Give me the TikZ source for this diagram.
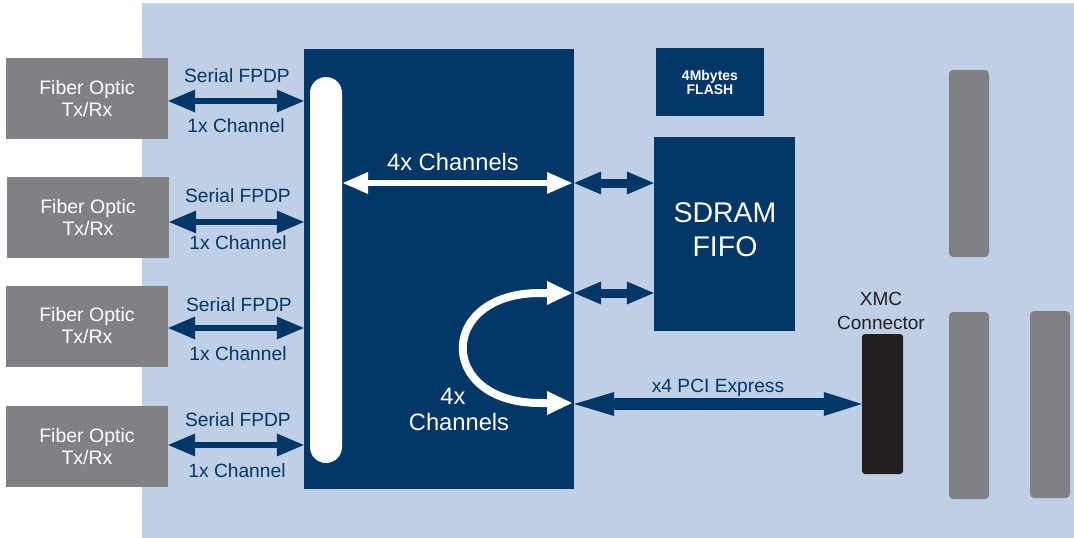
\documentclass[tikz,border=0pt]{standalone}
\usepackage{fontspec}
\setmainfont{Liberation Sans}
\usetikzlibrary{arrows.meta}
\definecolor{bgblue}{RGB}{191,208,230}
\definecolor{dkblue}{RGB}{0,54,104}
\definecolor{fibgray}{RGB}{128,129,132}
\definecolor{xmcblack}{RGB}{35,31,32}
\begin{document}
\begin{tikzpicture}[x=1pt,y=-1pt,
  fib/.style={fill=fibgray, minimum width=162, minimum height=81, text=white,
    font=\fontsize{19.5}{22}\selectfont, align=center, inner sep=0pt},
  lbl/.style={text=dkblue, font=\fontsize{19.2}{22}\selectfont, inner sep=0pt},
  wlbl/.style={text=white, font=\fontsize{23.7}{26}\selectfont, inner sep=0pt},
  bar/.style={fill=fibgray, rounded corners=4pt, minimum width=40, inner sep=0pt},
  serarr/.style={draw=dkblue, line width=6,
    arrows={Triangle[length=27pt,width=23pt,line width=0pt]-Triangle[length=27pt,width=23pt,line width=0pt]}},
  smarr/.style={draw=dkblue, line width=9,
    arrows={Triangle[length=27pt,width=23pt,line width=0pt]-Triangle[length=27pt,width=23pt,line width=0pt]}},
  pciarr/.style={draw=dkblue, line width=12,
    arrows={Triangle[length=40pt,width=24pt,line width=0pt]-Triangle[length=38pt,width=24pt,line width=0pt]}},
  whtarr/.style={draw=white, line width=6,
    arrows={Triangle[length=25pt,width=22pt,line width=0pt]-Triangle[length=25pt,width=22pt,line width=0pt]}},
  curvarr/.style={draw=white, line width=8,
    arrows={Triangle[length=25pt,width=24pt,line width=0pt]-Triangle[length=25pt,width=24pt,line width=0pt]}}
]
\useasboundingbox (0,0) rectangle (1074,538);
\fill[bgblue] (142,3) rectangle (1074,538);

% fiber optic boxes
\node[fib] (f1) at (87,98.5) {Fiber Optic\\Tx/Rx};
\node[fib] (f2) at (88,217.5) {Fiber Optic\\Tx/Rx};
\node[fib] (f3) at (87,326) {Fiber Optic\\Tx/Rx};
\node[fib] (f4) at (87,446.5) {Fiber Optic\\Tx/Rx};

% main FPGA box
\node[fill=dkblue, minimum width=270, minimum height=440, inner sep=0pt] (main) at (439,269) {};
\node[fill=white, rounded corners=16pt, minimum width=32, minimum height=386, inner sep=0pt] (pill) at (326,270) {};

% flash and sdram
\node[fill=dkblue, minimum width=108, minimum height=68, inner sep=0pt, text=white,
  font=\bfseries\fontsize{14}{14}\selectfont, align=center] (flash) at (710,82) {4Mbytes\\FLASH};
\node[fill=dkblue, minimum width=141, minimum height=194, inner sep=0pt] (sdram) at (724.5,234) {};
\node[text=white, font=\fontsize{28.5}{34}\selectfont, align=center, inner sep=0pt] (sdramtxt) at (725,230) {SDRAM\\FIFO};

% XMC connector and bars
\node[fill=xmcblack, rounded corners=3pt, minimum width=41, minimum height=140, inner sep=0pt] (xmc) at (882.5,404) {};
\node[text=xmcblack, font=\fontsize{19}{24}\selectfont, align=center, inner sep=0pt] (xmclbl) at (881,311) {XMC\\Connector};
\node[bar, minimum height=187] (b1) at (969,163.5) {};
\node[bar, minimum height=187] (b2) at (969,405.5) {};
\node[bar, minimum height=187] (b3) at (1050,404.5) {};

% serial FPDP arrows
\draw[serarr] (f1.east |- 0,101) -- (main.west |- 0,101);
\draw[serarr] (f2.east |- 0,222) -- (main.west |- 0,222);
\draw[serarr] (f3.east |- 0,328) -- (main.west |- 0,328);
\draw[serarr] (f4.east |- 0,445) -- (main.west |- 0,445);
\node[lbl] (s1) at (237,76) {Serial FPDP};
\node[lbl] (c1) at (236,126) {1x Channel};
\node[lbl] (s2) at (238,196) {Serial FPDP};
\node[lbl] (c2) at (238,243) {1x Channel};
\node[lbl] (s3) at (239,305) {Serial FPDP};
\node[lbl] (c3) at (238,354) {1x Channel};
\node[lbl] (s4) at (238,420) {Serial FPDP};
\node[lbl] (c4) at (237,471) {1x Channel};

% 4x channels (top)
\coordinate (w1) at (343,183);
\coordinate (w2) at (572,183);
\draw[whtarr] (w1) -- (w2);
\node[wlbl] (ch4) at (453,162) {4x Channels};

% FPGA <-> SDRAM
\draw[smarr] (main.east |- 0,183) -- (sdram.west |- 0,183);
\draw[smarr] (main.east |- 0,293) -- (sdram.west |- 0,293);

% curved loop-back arrow
\coordinate (ca) at (572,293);
\coordinate (ca2) at (540,293);
\coordinate (cb2) at (540,403);
\coordinate (cb) at (572,403);
\draw[curvarr] (ca) -- (ca2) .. controls +(-103,0) and +(-103,0) .. (cb2) -- (cb);
\node[wlbl] (l4x) at (453,396) {4x};
\node[wlbl] (lch) at (459,422) {Channels};

% PCI express
\draw[pciarr] (main.east |- 0,404) -- (xmc.west |- 0,404);
\node[lbl] (pci) at (718,388) {x4 PCI Express};
\end{tikzpicture}
\end{document}
